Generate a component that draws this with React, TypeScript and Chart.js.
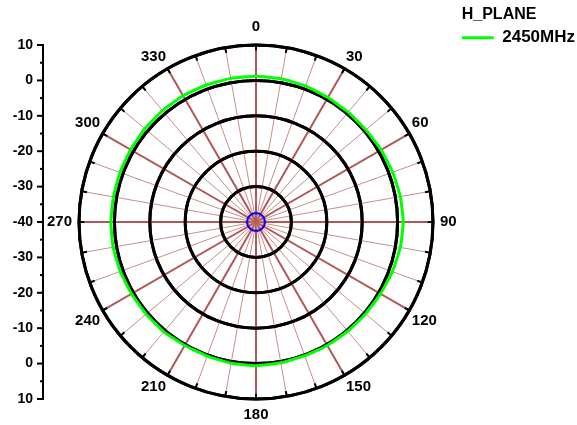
import React, { useEffect, useRef } from 'react';
import { Chart, registerables } from 'chart.js';

Chart.register(...registerables);

const ANGLE_LABELS = [
  '0', '10', '20', '30', '40', '50', '60', '70', '80',
  '90', '100', '110', '120', '130', '140', '150', '160', '170',
  '180', '190', '200', '210', '220', '230', '240', '250', '260',
  '270', '280', '290', '300', '310', '320', '330', '340', '350',
];

const GAIN_2450MHZ = [
  1.2, 1.1, 0.9, 0.6, 0.5, 0.5, 0.8, 1.1, 1.4,
  1.6, 1.4, 1.0, 0.6, 0.4, 0.3, 0.3, 0.2, 0.4,
  0.6, 0.5, 0.3, 0.3, 0.5, 0.5, 0.6, 0.8, 1.0,
  1.0, 0.9, 0.9, 0.9, 1.0, 1.1, 1.2, 1.2, 1.2,
];

const CENTER_MARKER = [
  -37.5, -37.5, -37.5, -37.5, -37.5, -37.5, -37.5, -37.5, -37.5,
  -37.5, -37.5, -37.5, -37.5, -37.5, -37.5, -37.5, -37.5, -37.5,
  -37.5, -37.5, -37.5, -37.5, -37.5, -37.5, -37.5, -37.5, -37.5,
  -37.5, -37.5, -37.5, -37.5, -37.5, -37.5, -37.5, -37.5, -37.5,
];

const RADIAL_TICKS = [-40, -30, -20, -10, 0, 10];
const SIDE_MINOR_TICKS = [-35, -25, -15, -5, 5];
const LEGEND_TITLE = 'H_PLANE';
const SERIES_NAME = '2450MHz';

const FONT = "'Liberation Sans', Arial, sans-serif";

const ringsPlugin = {
  id: 'ringsOverSpokes',
  beforeDatasetsDraw(chart: any) {
    const s = chart.scales.r;
    const ctx = chart.ctx;
    ctx.save();
    ctx.strokeStyle = '#000';
    ctx.lineWidth = 3;
    RADIAL_TICKS.forEach((v) => {
      if (v <= s.min) return;
      const d = s.getDistanceFromCenterForValue(v);
      ctx.beginPath();
      ctx.arc(s.xCenter, s.yCenter, d, 0, Math.PI * 2);
      ctx.stroke();
    });
    ctx.lineWidth = 2;
    const dOuter = s.getDistanceFromCenterForValue(s.max);
    const dInner = s.getDistanceFromCenterForValue(s.max - 1.5);
    for (let i = 0; i < ANGLE_LABELS.length; i++) {
      const a = s.getPointPosition(i, dOuter);
      const b = s.getPointPosition(i, dInner);
      ctx.beginPath();
      ctx.moveTo(a.x, a.y);
      ctx.lineTo(b.x, b.y);
      ctx.stroke();
    }
    ctx.restore();
  },
};

const sideAxisPlugin = {
  id: 'sideAxis',
  afterDraw(chart: any) {
    const s = chart.scales.r;
    const ctx = chart.ctx;
    const axisX = 43;
    const dMax = s.getDistanceFromCenterForValue(s.max);
    ctx.save();
    ctx.strokeStyle = '#000';
    ctx.fillStyle = '#000';
    ctx.lineWidth = 2;
    ctx.beginPath();
    ctx.moveTo(axisX, s.yCenter - dMax - 1);
    ctx.lineTo(axisX, s.yCenter + dMax + 1);
    ctx.stroke();
    ctx.font = `bold 14px ${FONT}`;
    ctx.textAlign = 'right';
    ctx.textBaseline = 'middle';
    RADIAL_TICKS.forEach((v) => {
      const d = s.getDistanceFromCenterForValue(v);
      const signs = d === 0 ? [1] : [-1, 1];
      signs.forEach((sg) => {
        const y = s.yCenter + sg * d;
        ctx.beginPath();
        ctx.moveTo(37, y);
        ctx.lineTo(axisX, y);
        ctx.stroke();
        ctx.fillText(String(v), 33, y);
      });
    });
    SIDE_MINOR_TICKS.forEach((v) => {
      const d = s.getDistanceFromCenterForValue(v);
      [-1, 1].forEach((sg) => {
        const y = s.yCenter + sg * d;
        ctx.beginPath();
        ctx.moveTo(40, y);
        ctx.lineTo(axisX, y);
        ctx.stroke();
      });
    });
    ctx.restore();
  },
};

export default function App() {
  const ref = useRef<HTMLCanvasElement | null>(null);

  useEffect(() => {
    if (!ref.current) return;
    const chart = new Chart(ref.current, {
      type: 'radar',
      data: {
        labels: ANGLE_LABELS,
        datasets: [
          {
            label: SERIES_NAME,
            data: GAIN_2450MHZ,
            borderColor: '#00ff00',
            backgroundColor: '#00ff00',
            borderWidth: 3,
            pointRadius: 0,
            fill: false,
            tension: 0.15,
          },
          {
            label: 'marker',
            data: CENTER_MARKER,
            borderColor: '#0000ff',
            backgroundColor: '#0000ff',
            borderWidth: 2,
            pointRadius: 0,
            fill: false,
            tension: 0.4,
          },
        ],
      },
      options: {
        animation: false,
        responsive: true,
        maintainAspectRatio: false,
        layout: { padding: { left: 42, top: 0, bottom: -4, right: -8 } },
        plugins: {
          tooltip: { enabled: false },
          title: {
            display: true,
            text: '',
            padding: 0,
            font: { size: 12, lineHeight: '17px' },
          },
          legend: {
            position: 'right',
            align: 'start',
            title: {
              display: true,
              text: LEGEND_TITLE,
              position: 'start',
              color: '#000',
              font: { family: FONT, size: 16, weight: 'bold' },
              padding: { top: 7, bottom: 3, left: 0, right: 0 },
            },
            labels: {
              usePointStyle: true,
              pointStyle: 'line',
              pointStyleWidth: 32,
              padding: 0,
              color: '#000',
              font: { family: FONT, size: 17, weight: 'bold' },
              filter: (item: any) => item.datasetIndex === 0,
            },
          },
        },
        scales: {
          r: {
            min: -40,
            max: 10,
            startAngle: 0,
            ticks: { display: false, stepSize: 10 },
            grid: { circular: true, color: '#000', lineWidth: 3 },
            angleLines: {
              display: true,
              color: (c: any) => (c.index % 3 === 0 ? '#b35656' : '#c98c8c'),
              lineWidth: (c: any) => (c.index % 3 === 0 ? 2 : 1),
            },
            pointLabels: {
              display: true,
              padding: (c: any) => (c.index === 0 ? 9 : c.index % 9 === 0 ? 7 : 3),
              color: '#000',
              font: { family: FONT, size: 15, weight: 'bold' },
              callback: (label: string, index: number) => (index % 3 === 0 ? label : ''),
            },
          },
        },
      } as any,
      plugins: [ringsPlugin, sideAxisPlugin],
    });
    return () => chart.destroy();
  }, []);

  return (
    <div style={{ position: 'absolute', left: 0, top: 0, width: 577, height: 425, background: '#fff' }}>
      <canvas ref={ref} />
    </div>
  );
}
